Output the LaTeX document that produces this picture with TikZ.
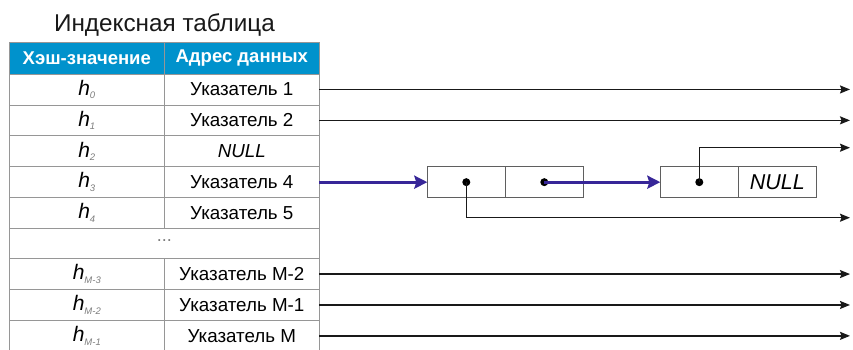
\documentclass[tikz,border=0pt]{standalone}
\usepackage{fontspec}
\setmainfont{Liberation Sans}
\usetikzlibrary{arrows.meta,positioning}

\definecolor{headblue}{RGB}{0,146,204}
\definecolor{linkblue}{RGB}{55,38,152}
\definecolor{gridgray}{RGB}{150,150,150}
\definecolor{slotgray}{RGB}{95,95,95}
\definecolor{subgray}{RGB}{125,125,125}
\definecolor{inkgray}{RGB}{25,25,25}

\newcommand{\hkey}[1]{{\fontsize{21}{21}\selectfont\itshape h}\raisebox{-3.5pt}{\color{subgray}\fontsize{9.5}{9.5}\selectfont\itshape #1}}

\tikzstyle{cell} = [
  draw=gridgray,
  line width=0.8pt,
  rectangle,
  minimum width=155pt,
  minimum height=30.9pt,
  inner sep=0pt,
  align=center,
  font=\fontsize{18.8}{18.8}\selectfont,
]
\tikzstyle{header} = [
  cell,
  fill=headblue,
  text=white,
  minimum height=31.3pt,
  font=\fontsize{18.5}{18.5}\selectfont\bfseries,
]
\tikzstyle{blank} = [
  cell,
  draw=none,
]
\tikzstyle{slot} = [
  draw=slotgray,
  line width=0.7pt,
  rectangle,
  minimum width=78pt,
  minimum height=31pt,
  inner sep=0pt,
  outer sep=0pt,
  font=\fontsize{21.5}{21.5}\selectfont\itshape,
]
\tikzstyle{dot} = [
  circle,
  fill=black,
  minimum size=8pt,
  inner sep=0pt,
]
\tikzstyle{ptr} = [
  draw=inkgray,
  line width=1.4pt,
  -{Stealth[length=10pt,width=8pt,inset=1.5pt]},
]
\tikzstyle{link} = [
  draw=linkblue,
  line width=3pt,
  -{Stealth[length=13pt,width=13pt,inset=2pt]},
]

\begin{document}
\begin{tikzpicture}[
    x=1pt,
    y=1pt,
  ]
  \useasboundingbox (0,0) rectangle (853,-349);
  \node[
    anchor=base,
    text=inkgray,
    font=\fontsize{24.3}{24.3}\selectfont,
  ](caption) at (164.5,-31.7) {Индексная таблица};
  \matrix(tbl)[
    ampersand replacement=\&,
    anchor=north west,
    inner sep=0pt,
    outer sep=0pt,
    row sep=-0.8pt,
    column sep=-0.8pt,
  ] at (8.9,-42.3) {
    \node[header](hkeyhead){Хэш-значение};
    \&
    \node[header](hvalhead){Адрес данных};
    \\
    \node[cell](k0){\hkey{0}}; \& \node[cell](p0){Указатель 1}; \\
    \node[cell](k1){\hkey{1}}; \& \node[cell](p1){Указатель 2}; \\
    \node[cell](k2){\hkey{2}}; \& \node[cell](p2){\itshape NULL}; \\
    \node[cell](k3){\hkey{3}}; \& \node[cell](p3){Указатель 4}; \\
    \node[cell](k4){\hkey{4}}; \& \node[cell](p4){Указатель 5}; \\
    \node[blank](gapa){}; \& \node[blank](gapb){}; \\
    \node[cell](k5){\hkey{M-3}}; \& \node[cell](p5){Указатель M-2}; \\
    \node[cell](k6){\hkey{M-2}}; \& \node[cell](p6){Указатель M-1}; \\
    \node[cell](k7){\hkey{M-1}}; \& \node[cell](p7){Указатель M}; \\
  };
  % row with the dots
  \draw[gridgray, line width=0.8pt]
    ([xshift=0.4pt]k4.south west) -- ([xshift=0.4pt]k5.north west)
    ([xshift=-0.4pt]p4.south east) -- ([xshift=-0.4pt]p5.north east);
  \node[text=subgray, font=\fontsize{18}{18}\selectfont] (gapdots) at ([yshift=3pt]gapa.east) {...};

  % chain of two records
  \node[slot, right=108pt of p3](recakey){};
  \node[slot, right=0pt of recakey](recanext){};
  \node[slot, right=77pt of recanext](recbkey){};
  \node[slot, right=0pt of recbkey](recbnext){NULL};
  \node[dot] (adot) at (recakey.center) {};
  \node[dot] (bdot) at (recanext.center) {};
  \node[dot] (cdot) at (recbkey.center) {};

  \coordinate (rim) at (850,0);
  \coordinate (lowend) at (850,-217.7);
  \coordinate (highend) at (850,-147.7);

  \foreach \row in {p0,p1,p5,p6,p7}
    \draw[ptr] (\row.east) -- (\row.east -| rim);
  \draw[ptr] (adot.center) |- (lowend);
  \draw[ptr] (cdot.center) |- (highend);
  \draw[link] (p3.east) -- (recakey.west);
  \draw[link] (bdot.center) -- (recbkey.west);
\end{tikzpicture}
\end{document}
